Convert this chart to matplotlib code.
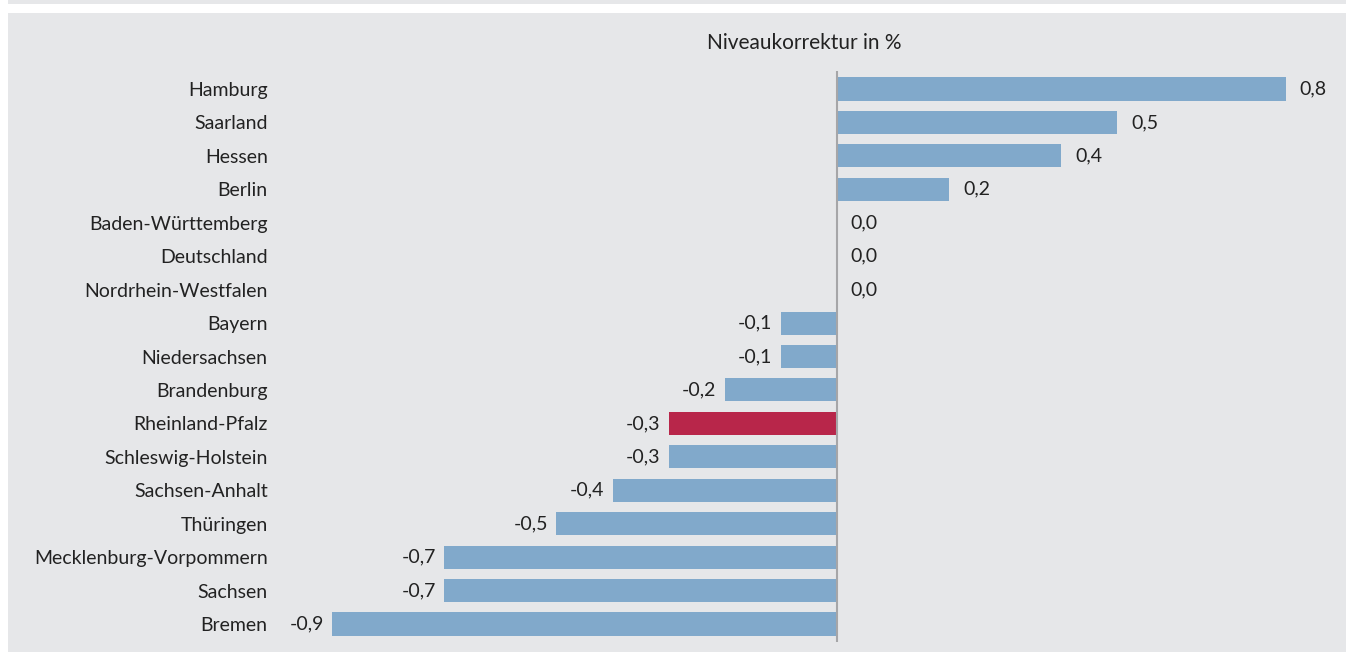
import numpy as np
import matplotlib.pyplot as plt
from matplotlib.patches import Rectangle

laender = ["Hamburg", "Saarland", "Hessen", "Berlin", "Baden-Württemberg",
           "Deutschland", "Nordrhein-Westfalen", "Bayern", "Niedersachsen",
           "Brandenburg", "Rheinland-Pfalz", "Schleswig-Holstein",
           "Sachsen-Anhalt", "Thüringen", "Mecklenburg-Vorpommern",
           "Sachsen", "Bremen"]
korrektur = [0.8, 0.5, 0.4, 0.2, 0.0, 0.0, 0.0, -0.1, -0.1, -0.2, -0.3,
             -0.3, -0.4, -0.5, -0.7, -0.7, -0.9]
highlight = "Rheinland-Pfalz"

plt.rcParams['font.family'] = ['Lato', 'DejaVu Sans']

blue = '#81a9cb'
red = '#b8264a'
bg = '#e6e7e9'
fs = 14

W, H = 1346, 652
fig = plt.figure(figsize=(W / 100, H / 100), dpi=100)
fig.patch.set_facecolor('white')

# grey panel + thin strip on top
fig.patches.append(Rectangle((8 / W, 0), 1, 1 - 13 / H, transform=fig.transFigure,
                             facecolor=bg, edgecolor='none', zorder=-5))
fig.patches.append(Rectangle((8 / W, 1 - 4 / H), 1, 4 / H, transform=fig.transFigure,
                             facecolor=bg, edgecolor='none', zorder=-5))

ax = fig.add_axes([276 / W, 1 - 642.4 / H, 1060 / W, (642.4 - 70.6) / H])
ax.set_facecolor('none')
ax.set_zorder(1)

y = np.arange(len(laender))
colors = [red if l == highlight else blue for l in laender]
ax.barh(y, korrektur, height=0.69, color=colors, zorder=2)

ax.set_xlim(-1.0, 0.89)
ax.set_ylim(len(laender) - 0.45, -0.55)
ax.axvline(0, color='#a6a6a8', lw=1.5, zorder=3)

ax.set_yticks(y)
ax.set_yticklabels(laender, fontsize=fs, color='#222222')
ax.tick_params(axis='y', length=0, pad=6)
ax.set_xticks([])
for s in ax.spines.values():
    s.set_visible(False)

for yi, v in zip(y, korrektur):
    txt = f"{v:.1f}".replace('.', ',')
    if v < 0:
        ax.annotate(txt, (v, yi), xytext=(-6, 0), textcoords='offset points',
                    ha='right', va='center', fontsize=fs, color='#222222')
    else:
        ax.annotate(txt, (v, yi), xytext=(10, 0), textcoords='offset points',
                    ha='left', va='center', fontsize=fs, color='#222222')

fig.text(804 / W, 1 - 43 / H, "Niveaukorrektur in %", ha='center', va='center',
         fontsize=15, color='#222222')

fig.savefig('out.png', dpi=100, facecolor=fig.get_facecolor())
